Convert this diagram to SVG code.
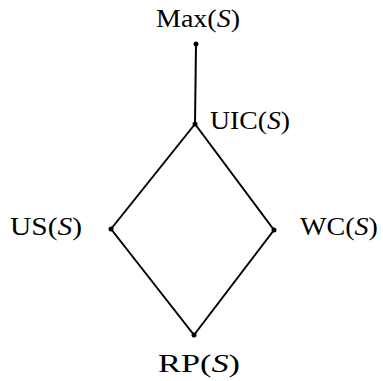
<svg xmlns="http://www.w3.org/2000/svg" width="383" height="381" viewBox="0 0 383 381">
<style>
text{font-family:"Liberation Serif","Times New Roman",serif;font-size:25.5px;fill:#000}
.i{font-style:italic}
.e{stroke:#000;stroke-width:2;fill:none;stroke-linecap:round}
.d{fill:#000}
</style>
<rect width="383" height="381" fill="#fff"/>
<g id="edges">
<line class="e" x1="196" y1="44" x2="195" y2="124"/>
<line class="e" x1="195" y1="124" x2="111" y2="229"/>
<line class="e" x1="195" y1="124" x2="274" y2="230"/>
<line class="e" x1="111" y1="229" x2="194" y2="335"/>
<line class="e" x1="274" y1="230" x2="194" y2="335"/>
</g>
<g id="max"><circle class="d" cx="196" cy="44" r="2.5"/><text x="156" y="27" textLength="84" lengthAdjust="spacingAndGlyphs">Max(<tspan class="i">S</tspan>)</text></g>
<g id="uic"><circle class="d" cx="195" cy="124" r="2.5"/><text x="210" y="129" textLength="80" lengthAdjust="spacingAndGlyphs">UIC(<tspan class="i">S</tspan>)</text></g>
<g id="us"><circle class="d" cx="111" cy="229" r="2.5"/><text x="10" y="235" textLength="72" lengthAdjust="spacingAndGlyphs">US(<tspan class="i">S</tspan>)</text></g>
<g id="wc"><circle class="d" cx="274" cy="230" r="2.5"/><text x="300" y="235" textLength="78" lengthAdjust="spacingAndGlyphs">WC(<tspan class="i">S</tspan>)</text></g>
<g id="rp"><circle class="d" cx="194" cy="335" r="2.5"/><text x="158" y="372" textLength="82" lengthAdjust="spacingAndGlyphs">RP(<tspan class="i">S</tspan>)</text></g>
</svg>
